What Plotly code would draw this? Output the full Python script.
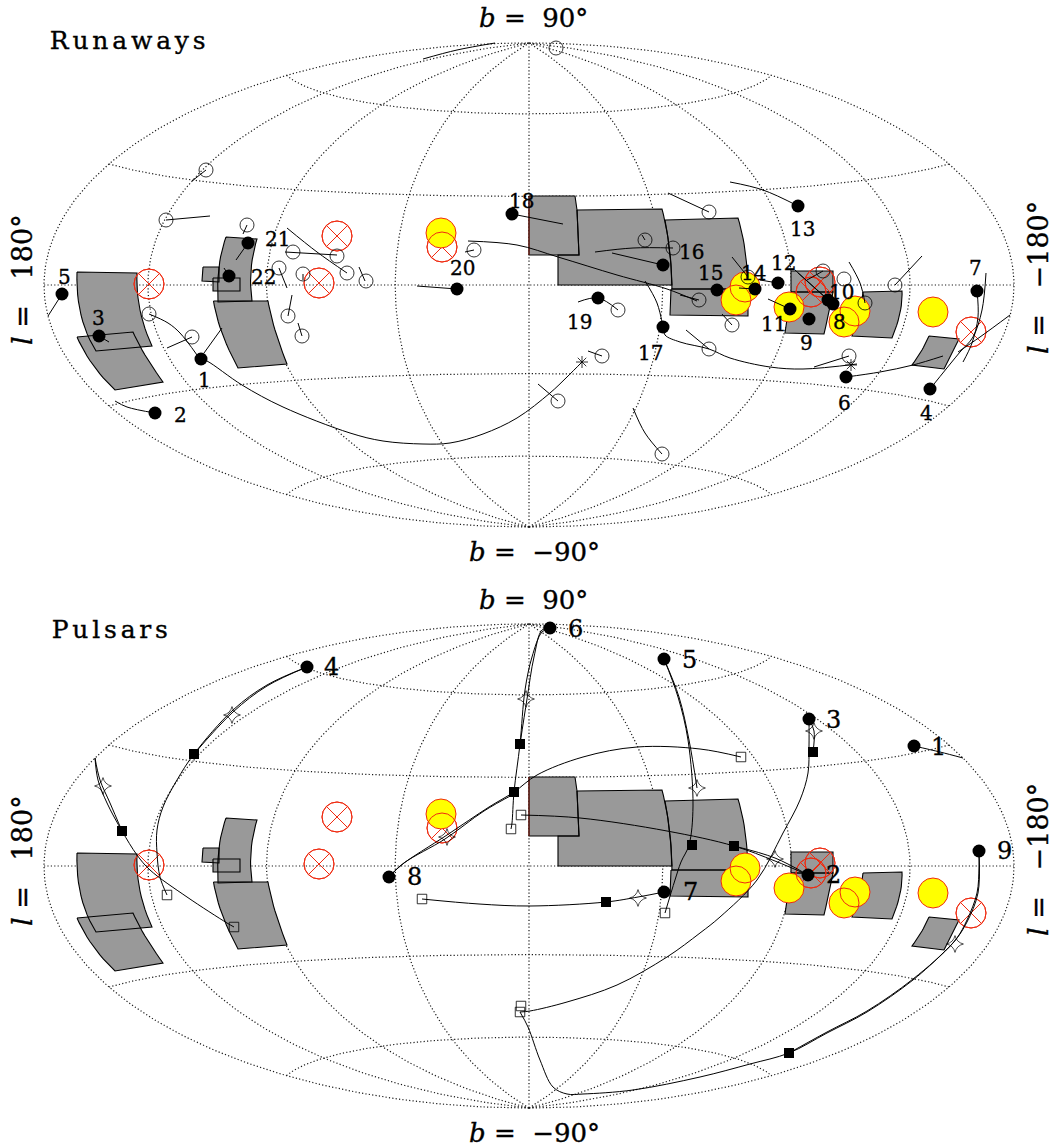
import numpy as np
import plotly.graph_objects as go

# ---- graticule of the Hammer map (galactic degrees) ----
MERIDIANS = [-180, -135, -90, -45, 0, 45, 90, 135, 180]
PARALLELS = [-60, -30, 0, 30, 60]
HALF_W, HALF_H = 485, 242

# ---- everything below is in map-plane units, origin at (l=0, b=0) ----
# each region is a list of edges; an edge has 2 points, or 3 when it is bowed
PATCHES = [
    [[(-452,13),(-392,12)],[(-392,12),(-389,-25),(-377,-61)],[(-377,-61),(-433,-66)],[(-433,-66),(-448,-30),(-452,13)]],
    [[(-452,-52),(-396,-47)],[(-396,-47),(-384,-70),(-366,-97)],[(-366,-97),(-414,-105)],[(-414,-105),(-436,-80),(-452,-52)]],
    [[(-303,48),(-272,46)],[(-272,46),(-278,15),(-277,-16)],[(-277,-16),(-311,-17)],[(-311,-17),(-310,18),(-303,48)]],
    [[(-326,18),(-310,18)],[(-310,18),(-310,3)],[(-310,3),(-327,4)],[(-327,4),(-326,18)]],
    [[(-316,7),(-289,7)],[(-289,7),(-289,-6)],[(-289,-6),(-316,-6)],[(-316,-6),(-316,7)]],
    [[(-315.5,-16),(-261,-16)],[(-261,-16),(-254,-45),(-242,-79)],[(-242,-79),(-291,-83)],[(-291,-83),(-307,-48),(-315.5,-16)]],
    [[(0,89),(46,89)],[(46,89),(48,75)],[(48,75),(50,30)],[(50,30),(0,30)],[(0,30),(0,89)]],
    [[(48,75),(133,76)],[(133,76),(140,40),(143,0)],[(143,0),(29,0)],[(29,0),(29,30)],[(29,30),(50,30)],[(50,30),(48,75)]],
    [[(136,65),(209,67)],[(209,67),(216,35),(219,-4)],[(219,-4),(143,-4)],[(143,-4),(141,30),(136,65)]],
    [[(142,-4),(219,-4)],[(219,-4),(219,-31)],[(219,-31),(141,-30)],[(141,-30),(142,-4)]],
    [[(262,14),(304,14)],[(304,14),(304,-7)],[(304,-7),(262,-7)],[(262,-7),(262,14)]],
    [[(262,-7),(304,-7)],[(304,-7),(300,-27),(295,-49)],[(295,-49),(256,-48)],[(256,-48),(259,-27),(262,-7)]],
    [[(334,-7),(373,-6)],[(373,-6),(371,-28),(363,-53)],[(363,-53),(323,-51)],[(323,-51),(330,-29),(334,-7)]],
    [[(400,-51),(430,-54)],[(430,-54),(415,-84)],[(415,-84),(383,-80)],[(383,-80),(393,-65),(400,-51)]],
]
DARK_RED_EDGE_X = [0, 0]
DARK_RED_EDGE_Y = [89, 30]
YELLOW_X = [-88, 216, 207, 260, 326, 315, 404]
YELLOW_Y = [52, -2, -15, -22, -26, -37, -27]
CROSS_X = [-192, -210, -380, -87, 291, 282, 442]
CROSS_Y = [49, 2, 1, 38, 3, -7, -47]

# Runaways panel
RUN_LABELS = ["1","2","3","4","5","6","7","8","9","10","11","12","13","14","15","16","17","18","19","20","21","22"]
RUN_DOT_X = [-328,-374,-430,401,-467,317,448,304,280,299,261,249,269,226,188,134,134,-17,69,-72,-281,-300]
RUN_DOT_Y = [-74,-128,-51,-104,-9,-92,-6,-19,-34,-15,-24,2,79,-4,-5,20,-42,71,-13,-4,42,9]
RUN_LAB_X = [-325,-349,-431,397,-465,315,446,310,277,312,244,254,273,224,181,162,121,-8,50,-67,-252,-266]
RUN_LAB_Y = [-95,-130,-33,-128,8,-118,17,-37,-58,-7,-39,22,56,12,12,33,-68,84,-37,17,46,8]
RUN_OPEN_X = [-323,-363,-282,-236,-192,-182,-250,-226,-163,-380,-337,-241,-227,27,-55,116,144,170,89,73,29,133,180,203,180,219,294,315,336,366,320]
RUN_OPEN_Y = [115,65,60,33,29,12,17,11,4,-29,-52,-31,-51,237,35,45,37,-15,-25,-71,-116,-169,73,-40,-64,8,14,6,-18,0,-71]
RUN_STAR_X = [53, 322]
RUN_STAR_Y = [-77, -80]
RUN_TRACKS = [
    [(-328,-74),(-322,-76),(-287,-100),(-246,-122),(-179,-148),(-146,-156),(-106,-159),(-79,-158),(-46,-149),(-12,-133),(21,-108),(38,-92),(53,-77)],
    [(-325,-68),(-307,-43)],
    [(-380,-29),(-361,-38),(-349,-48),(-332,-70)],
    [(-337,-52),(-362,-63)],
    [(-323,115),(-337,104)],
    [(-363,65),(-319,69)],
    [(-282,60),(-286,51)],
    [(-281,42),(-293,25)],
    [(-300,9),(-305,17)],
    [(-467,-9),(-481,-31)],
    [(-430,-51),(-420,-57)],
    [(-374,-128),(-402,-122),(-414,-116)],
    [(-244,33),(-192,30)],
    [(-242,57),(-212,33),(-182,12)],
    [(-250,17),(-242,-3)],
    [(-241,-31),(-237,-10)],
    [(-227,-51),(-231,-38)],
    [(-226,11),(-226,5)],
    [(-170,18),(-164,4)],
    [(-72,-4),(-112,-1)],
    [(-55,35),(-64,33)],
    [(-61,44),(-12,40),(29,28),(88,10),(138,-4),(168,-16)],
    [(-17,71),(34,61)],
    [(116,45),(113,50)],
    [(134,20),(83,32)],
    [(144,37),(104,37),(66,33)],
    [(180,73),(139,92)],
    [(134,-42),(128,-18),(116,4)],
    [(134,-42),(136,-50),(151,-57),(180,-64),(201,-73),(241,-82),(274,-84),(328,-79)],
    [(180,-64),(157,-45)],
    [(320,-71),(285,-82)],
    [(317,-92),(351,-87),(384,-80),(414,-71)],
    [(401,-104),(431,-67),(444,-52),(453,-25),(457,12)],
    [(448,-6),(449,-32),(443,-58),(434,-77)],
    [(481,-30),(451,-52),(429,-67)],
    [(269,79),(234,95),(201,103)],
    [(170,-15),(151,-10)],
    [(203,-40),(193,-29)],
    [(219,8),(203,28)],
    [(226,-4),(210,-3)],
    [(249,2),(231,5)],
    [(261,-24),(239,-14)],
    [(299,-15),(266,15)],
    [(304,-19),(269,12)],
    [(294,14),(278,5)],
    [(336,-18),(331,2),(320,23)],
    [(366,0),(393,29)],
    [(-106,226),(-72,235),(-34,242)],
    [(73,-71),(59,-66)],
    [(29,-116),(9,-99)],
    [(89,-25),(69,-13),(49,-17)],
    [(133,-169),(116,-148),(104,-123)],
]

# Pulsars panel
PSR_LABELS = ["1","2","3","4","5","6","7","8","9"]
PSR_DOT_X = [385,279,280,-222,135,21,135,-140,450]
PSR_DOT_Y = [120,-9,147,199,207,238,-26,-11,15]
PSR_LAB_X = [409,304,304,-198,160,46,161,-115,475]
PSR_LAB_Y = [119,-9,146,199,206,237,-26,-11,15]
PSR_SQ_X = [-335,-407,-9,-15,163,205,284,77,260]
PSR_SQ_Y = [112,35,122,74,21,20,114,-36,-187]
PSR_OSQ_X = [-362,-295,-18,-8,-107,136,-8,-9,212]
PSR_OSQ_Y = [-29,-61,37,51,-33,-47,-140,-146,109]
PSR_STAR_X = [-426,-297,-3,168,285,246,-82,109,426]
PSR_STAR_Y = [80,151,167,78,135,7,29,-32,-78]
PSR_TRACKS = [
    [(-222,199),(-262,181),(-296,156),(-335,112),(-352,86),(-366,59),(-372,36),(-372,13),(-369,-11),(-362,-29)],
    [(-222,199),(-262,180),(-296,154),(-335,112)],
    [(-434,108),(-431,86),(-422,63),(-407,35),(-392,11),(-379,-4),(-342,-31),(-302,-57),(-295,-61)],
    [(-434,108),(-429,86),(-419,63),(-407,35)],
    [(21,238),(13,234),(3,209),(-4,176),(-9,122),(-15,74),(-17,43),(-18,37)],
    [(21,238),(13,236),(5,209),(-2,167),(-9,122)],
    [(-140,-11),(-129,0),(-82,31),(-40,59),(-15,74),(8,91),(54,109),(108,119),(171,117),(212,109)],
    [(-140,-11),(-125,3),(-84,27),(-45,55),(-15,72)],
    [(135,-26),(109,-31),(77,-36),(1,-40),(-50,-38),(-107,-33)],
    [(135,207),(149,169),(159,126),(164,60),(160,21),(152,4),(146,-14),(136,-47)],
    [(135,207),(150,169),(160,126),(168,78)],
    [(-8,51),(51,48),(138,35),(205,20),(246,5),(279,-9)],
    [(205,20),(246,8),(279,-9)],
    [(280,147),(280,120),(279,93),(271,66),(254,33),(228,-14),(191,-51),(171,-67),(138,-91),(88,-119),(38,-136),(1,-145),(-9,-146)],
    [(280,147),(285,135),(284,114)],
    [(385,120),(411,114),(434,108)],
    [(450,15),(450,-1),(448,-27),(438,-54),(428,-72),(414,-87),(384,-114),(338,-146),(298,-167),(260,-187),(221,-198),(171,-211),(104,-224),(54,-228),(38,-228),(24,-221),(11,-194),(-1,-161),(-9,-146)],
    [(450,13),(449,-27),(438,-56),(424,-77),(384,-113),(338,-145),(298,-166),(260,-187)],
]

NBSP = "\u00a0"
B_TOP = f"<i>b</i>{NBSP}={NBSP}{NBSP}90°"
B_BOT = f"<i>b</i>{NBSP}={NBSP}{NBSP}−90°"
L_LEFT = f"<i>l</i>{NBSP}={NBSP}{NBSP}{NBSP}180°"
L_RIGHT = f"<i>l</i>{NBSP}={NBSP}{NBSP}{NBSP}−180°"
FONT = "DejaVu Serif"
RED = "#f02a10"
GREY = "#999999"
DOTS = "1.2px,2.2px"


def hammer(l, b):
    lr, br = np.radians(l) / 2, np.radians(b)
    z = np.sqrt(1 + np.cos(br) * np.cos(lr))
    return HALF_W * np.cos(br) * np.sin(lr) / z, HALF_H * np.sin(br) / z


def outline(patch):
    """Walk a region's edges, bowing the three-point ones through their middle point."""
    xs, ys = [], []
    for edge in patch:
        if len(edge) == 2:
            xs += [edge[0][0], edge[1][0]]
            ys += [edge[0][1], edge[1][1]]
        else:
            (x0, y0), (x1, y1), (x2, y2) = edge
            t = np.linspace(0, 1, 13)
            a, b, c = 2 * (t - .5) * (t - 1), -4 * t * (t - 1), 2 * t * (t - .5)
            xs += list(a * x0 + b * x1 + c * x2)
            ys += list(a * y0 + b * y1 + c * y2)
    return xs, ys


fig = go.Figure()


def line(x, y, ax, width=1.0, dash=None, color="black", shape="linear"):
    fig.add_trace(go.Scatter(x=x, y=y, xaxis=ax[0], yaxis=ax[1], mode="lines", hoverinfo="skip",
                             line=dict(color=color, width=width, dash=dash, shape=shape)))


def pts(x, y, ax, symbol, size, color="black", lw=0.0, lc="black"):
    fig.add_trace(go.Scatter(x=x, y=y, xaxis=ax[0], yaxis=ax[1], mode="markers", hoverinfo="skip",
                             marker=dict(symbol=symbol, size=size, color=color, line=dict(width=lw, color=lc))))


def base(ax):
    t = np.linspace(-90, 90, 181)
    for l in MERIDIANS:
        gx, gy = hammer(l, t)
        line(gx, gy, ax, 1.2, DOTS, "#1a1a1a")
    t = np.linspace(-180, 180, 361)
    for b in PARALLELS:
        gx, gy = hammer(t, b)
        line(gx, gy, ax, 1.2, DOTS, "#1a1a1a")
    for p in PATCHES:
        px, py = outline(p)
        fig.add_trace(go.Scatter(x=px, y=py, xaxis=ax[0], yaxis=ax[1], mode="lines", fill="toself",
                                 fillcolor=GREY, line=dict(width=0, color=GREY), hoverinfo="skip"))
    for p in PATCHES:
        px, py = outline(p)
        line(px, py, ax, 1.1)
    line(DARK_RED_EDGE_X, DARK_RED_EDGE_Y, ax, 1.1, color="#7a1a10")
    pts(CROSS_X, CROSS_Y, ax, "circle-x-open", 30, RED, 1.0, RED)
    pts(YELLOW_X, YELLOW_Y, ax, "circle", 30, "#ffff00")
    pts(YELLOW_X + CROSS_X, YELLOW_Y + CROSS_Y, ax, "circle-open", 30, RED, 1.0, RED)


def tracks(items, ax):
    for t in items:
        tx, ty = zip(*t)
        line(tx, ty, ax, 1.0, shape="spline" if len(t) > 2 else "linear")


A1, A2 = ("x", "y"), ("x2", "y2")

base(A1)
tracks(RUN_TRACKS, A1)
pts(RUN_OPEN_X, RUN_OPEN_Y, A1, "circle-open", 14, "black", 0.8)
pts(RUN_STAR_X, RUN_STAR_Y, A1, "asterisk-open", 10, "black", 0.8)
pts(RUN_DOT_X, RUN_DOT_Y, A1, "circle", 13)

base(A2)
tracks(PSR_TRACKS, A2)
pts(PSR_OSQ_X, PSR_OSQ_Y, A2, "square-open", 9.5, "black", 0.8)
pts(PSR_STAR_X, PSR_STAR_Y, A2, "star-diamond-open", 12, "black", 0.7)
pts(PSR_SQ_X, PSR_SQ_Y, A2, "square", 10)
pts(PSR_DOT_X, PSR_DOT_Y, A2, "circle", 13)

ann = []


def text(s, x, y, size, ax, angle=0):
    ann.append(dict(text=s, x=x, y=y, xref=ax[0], yref=ax[1], showarrow=False, textangle=angle,
                    xanchor="center", yanchor="middle", font=dict(family=FONT, size=size, color="black")))


for s, x, y in zip(RUN_LABELS, RUN_LAB_X, RUN_LAB_Y):
    text(s, x, y, 20, A1)
for s, x, y in zip(PSR_LABELS, PSR_LAB_X, PSR_LAB_Y):
    text(s, x, y, 24, A2)
text("Runaways", -400, 245, 25, A1)
text("Pulsars", -418, 237, 25, A2)
text(B_TOP, 4, 267, 26, A1)
text(B_BOT, 5, -267, 26, A1)
text(L_LEFT, -507, 5, 27, A1, -90)
text(L_RIGHT, 509, 7, 27, A1, -90)
text(B_TOP, 4, 266, 26, A2)
text(B_BOT, 5, -267, 26, A2)
text(L_LEFT, -507, 5, 27, A2, -90)
text(L_RIGHT, 509, 6, 27, A2, -90)

hidden = dict(visible=False, fixedrange=True)
W, H = 1054, 1147
SPLIT = 575
fig.update_layout(
    width=W, height=H, margin=dict(l=0, r=0, t=0, b=0), showlegend=False,
    paper_bgcolor="white", plot_bgcolor="white", annotations=ann,
    xaxis=dict(range=[-529, 525], domain=[0, 1], anchor="y", **hidden),
    yaxis=dict(range=[285 - SPLIT, 285], domain=[1 - SPLIT / H, 1], anchor="x", **hidden),
    xaxis2=dict(range=[-529, 525], domain=[0, 1], anchor="y2", **hidden),
    yaxis2=dict(range=[866 - H, 866 - SPLIT], domain=[0, 1 - SPLIT / H], anchor="x2", **hidden),
)

POST = """
document.body.style.margin = '0';
document.querySelectorAll('.annotation-text').forEach(function (t) {
  t.style.stroke = 'black';
  t.style.strokeWidth = '0.35px';
  if (t.textContent === 'Runaways' || t.textContent === 'Pulsars') { t.style.letterSpacing = '3.8px'; }
});
"""
fig.write_html("out.html", post_script=POST, config={"displayModeBar": False})
